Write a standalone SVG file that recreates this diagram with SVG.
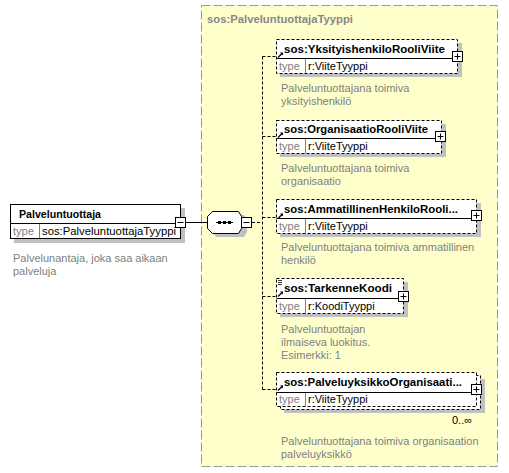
<svg xmlns="http://www.w3.org/2000/svg" width="509" height="473" viewBox="0 0 509 473">
<defs>
<style>
.bold{font-family:"Liberation Sans",Arial,sans-serif;font-weight:bold;font-size:11.5px;fill:#000}
.txt{font-family:"Liberation Sans",Arial,sans-serif;font-size:11px;fill:#000}
.lbl{font-family:"Liberation Sans",Arial,sans-serif;font-size:11px;fill:#808080}
.desc{font-family:"Liberation Sans",Arial,sans-serif;font-size:11px;fill:#808080}
.title{font-family:"Liberation Sans",Arial,sans-serif;font-weight:bold;font-size:11.5px;fill:#888}
.shadow{fill:#c0c0c0;stroke:none}
.box{fill:#fff;stroke:#000;stroke-width:1}
.dbox{fill:#fff;stroke:#000;stroke-width:1;stroke-dasharray:3,2}
.dline{fill:none;stroke:#000;stroke-width:1;stroke-dasharray:3,2}
.line{fill:none;stroke:#000;stroke-width:1}
.sep{fill:none;stroke:#000;stroke-width:1}
.grey{fill:none;stroke:#808080;stroke-width:1}
</style>
<g id="plus">
<rect x="0.5" y="0.5" width="10" height="10" fill="#fff" stroke="#000"/>
<path d="M2.5 5.5H8.5M5.5 2.5V8.5" stroke="#000" fill="none"/>
</g>
<g id="ref">
<path d="M1 6.5L5.5 2" stroke="#000" stroke-width="1.2" fill="none"/>
<path d="M3 1.5H6V4.5Z" fill="#000"/>
</g>
</defs>
<rect width="509" height="473" fill="#fff"/>

<g id="complexType">
<rect x="201.5" y="5.5" width="296" height="461" fill="#ffffcc" stroke="#999" stroke-dasharray="9,3"/>
<text class="title" x="207" y="23" textLength="146" lengthAdjust="spacingAndGlyphs">sos:PalveluntuottajaTyyppi</text>
</g>

<g id="connectors">
<line class="line" x1="186" y1="222.5" x2="207" y2="222.5"/>
<line class="dline" x1="252" y1="222.5" x2="262.5" y2="222.5"/>
<line class="dline" x1="262.5" y1="56.5" x2="262.5" y2="389.5"/>
<line class="dline" x1="262.5" y1="56.5" x2="277" y2="56.5"/>
<line class="dline" x1="262.5" y1="136.5" x2="277" y2="136.5"/>
<line class="dline" x1="262.5" y1="217.5" x2="277" y2="217.5"/>
<line class="dline" x1="262.5" y1="296.5" x2="277" y2="296.5"/>
<line class="dline" x1="262.5" y1="389.5" x2="277" y2="389.5"/>
</g>

<g id="Palveluntuottaja">
<rect class="shadow" x="14" y="208" width="171" height="35"/>
<rect class="box" x="10.5" y="204.5" width="170" height="34"/>
<line class="sep" x1="10.5" y1="223.5" x2="180.5" y2="223.5"/>
<line class="grey" x1="39.5" y1="224" x2="39.5" y2="238"/>
<text class="bold" x="19" y="218" textLength="82" lengthAdjust="spacingAndGlyphs">Palveluntuottaja</text>
<text class="lbl" x="13" y="235">type</text>
<text class="txt" x="42" y="235" textLength="134" lengthAdjust="spacingAndGlyphs">sos:PalveluntuottajaTyyppi</text>
<rect x="175.5" y="217.5" width="10" height="10" fill="#fff" stroke="#000"/>
<path d="M177.5 222.5H183.5" stroke="#000"/>
<text class="desc" x="13" y="262">Palvelunantaja, joka saa aikaan</text>
<text class="desc" x="13" y="275">palveluja</text>
</g>

<g id="sequence">
<path class="shadow" d="M216 215H244L247 220V232L244 237H216L213 232V220Z"/>
<path d="M212.5 211.5H238.5L241.5 216.5V228.5L238.5 233.5H212.5L207.5 228.5V216.5Z" fill="#fff" stroke="#000"/>
<line class="line" x1="216" y1="222.5" x2="233" y2="222.5"/>
<rect x="218" y="221" width="3" height="3" fill="#000"/>
<rect x="223" y="221" width="3" height="3" fill="#000"/>
<rect x="228" y="221" width="3" height="3" fill="#000"/>
<rect x="241.5" y="217.5" width="10" height="10" fill="#fff" stroke="#000"/>
<path d="M243.5 222.5H249.5" stroke="#000"/>
</g>

<g id="YksityishenkiloRooliViite">
<rect class="shadow" x="280" y="43" width="182" height="34"/>
<rect class="dbox" x="276.5" y="39.5" width="181" height="34"/>
<line class="sep" x1="276.5" y1="58.5" x2="457.5" y2="58.5"/>
<line class="grey" x1="305.5" y1="59" x2="305.5" y2="73"/>
<use href="#ref" x="277" y="51"/>
<text class="bold" x="284" y="53" textLength="161" lengthAdjust="spacingAndGlyphs">sos:YksityishenkiloRooliViite</text>
<text class="lbl" x="279" y="70">type</text>
<text class="txt" x="308" y="70">r:ViiteTyyppi</text>
<use href="#plus" x="452" y="51"/>
<text class="desc" x="281" y="92">Palveluntuottajana toimiva</text>
<text class="desc" x="281" y="105">yksityishenkilö</text>
</g>

<g id="OrganisaatioRooliViite">
<rect class="shadow" x="280" y="124" width="166" height="33"/>
<rect class="dbox" x="276.5" y="120.5" width="165" height="33"/>
<line class="sep" x1="276.5" y1="138.5" x2="441.5" y2="138.5"/>
<line class="grey" x1="305.5" y1="139" x2="305.5" y2="153"/>
<use href="#ref" x="277" y="131"/>
<text class="bold" x="284" y="133" textLength="144" lengthAdjust="spacingAndGlyphs">sos:OrganisaatioRooliViite</text>
<text class="lbl" x="279" y="150">type</text>
<text class="txt" x="308" y="150">r:ViiteTyyppi</text>
<use href="#plus" x="435" y="131"/>
<text class="desc" x="281" y="172">Palveluntuottajana toimiva</text>
<text class="desc" x="281" y="185">organisaatio</text>
</g>

<g id="AmmatillinenHenkiloRooliViite">
<rect class="shadow" x="280" y="203" width="201" height="34"/>
<rect class="dbox" x="276.5" y="199.5" width="200" height="34"/>
<line class="sep" x1="276.5" y1="218.5" x2="476.5" y2="218.5"/>
<line class="grey" x1="305.5" y1="219" x2="305.5" y2="233"/>
<use href="#ref" x="277" y="212"/>
<text class="bold" x="284" y="213" textLength="174" lengthAdjust="spacingAndGlyphs">sos:AmmatillinenHenkiloRooli...</text>
<text class="lbl" x="279" y="230">type</text>
<text class="txt" x="308" y="230">r:ViiteTyyppi</text>
<use href="#plus" x="471" y="210"/>
<text class="desc" x="281" y="251">Palveluntuottajana toimiva ammatillinen</text>
<text class="desc" x="281" y="264">henkilö</text>
</g>

<g id="TarkenneKoodi">
<rect class="shadow" x="280" y="282" width="128" height="35"/>
<rect class="dbox" x="276.5" y="278.5" width="127" height="35"/>
<line class="sep" x1="276.5" y1="298.5" x2="403.5" y2="298.5"/>
<line class="grey" x1="305.5" y1="299" x2="305.5" y2="313"/>
<path d="M278 280.5H282M278 282.5H282M278 284.5H282" stroke="#000" stroke-width="0.8"/>
<use href="#ref" x="277" y="290"/>
<text class="bold" x="284" y="292" textLength="108" lengthAdjust="spacingAndGlyphs">sos:TarkenneKoodi</text>
<text class="lbl" x="279" y="310">type</text>
<text class="txt" x="308" y="310">r:KoodiTyyppi</text>
<use href="#plus" x="398" y="291"/>
<text class="desc" x="281" y="333">Palveluntuottajan</text>
<text class="desc" x="281" y="346">ilmaiseva luokitus.</text>
<text class="desc" x="281" y="359">Esimerkki: 1</text>
</g>

<g id="PalveluyksikkoOrganisaatioViite">
<rect class="shadow" x="284" y="379" width="201" height="34"/>
<rect class="dbox" x="280.5" y="375.5" width="200" height="34"/>
<rect class="dbox" x="276.5" y="372.5" width="200" height="34"/>
<line class="sep" x1="276.5" y1="392.5" x2="476.5" y2="392.5"/>
<line class="grey" x1="305.5" y1="393" x2="305.5" y2="406"/>
<use href="#ref" x="277" y="384"/>
<text class="bold" x="284" y="386" textLength="178" lengthAdjust="spacingAndGlyphs">sos:PalveluyksikkoOrganisaati...</text>
<text class="lbl" x="279" y="403">type</text>
<text class="txt" x="308" y="403">r:ViiteTyyppi</text>
<use href="#plus" x="471" y="384"/>
<text class="txt" x="452" y="424">0..∞</text>
<text class="desc" x="281" y="445">Palveluntuottajana toimiva organisaation</text>
<text class="desc" x="281" y="458">palveluyksikkö</text>
</g>
</svg>
